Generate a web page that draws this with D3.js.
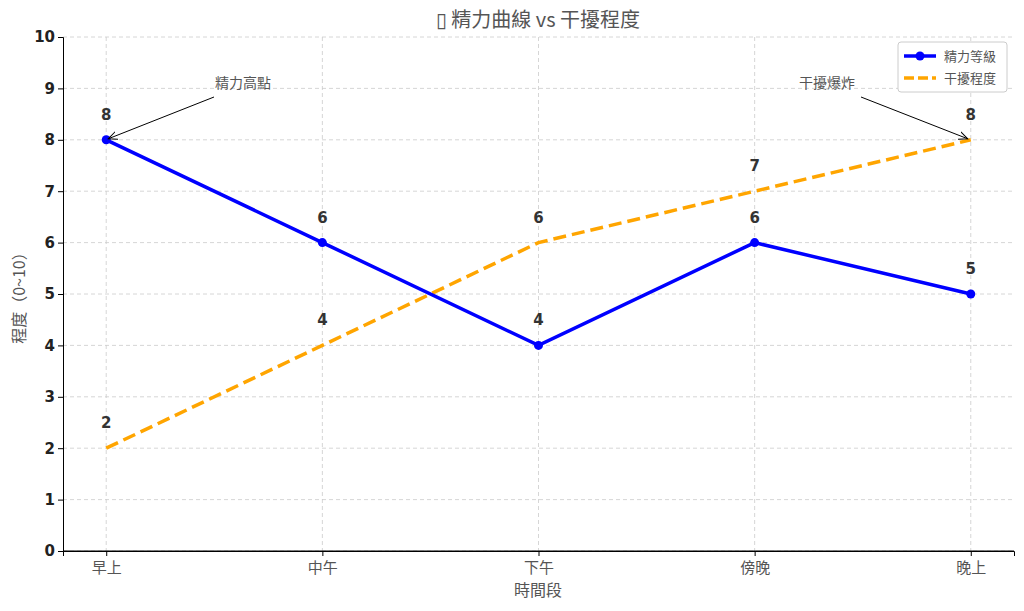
<!DOCTYPE html><html><head><meta charset="utf-8">
<script src="https://cdn.jsdelivr.net/npm/d3@7"></script>
<style>body{margin:0;background:#fff}text{font-family:"Noto Sans CJK TC","DejaVu Sans",sans-serif}</style></head><body>
<svg id="c" width="1024" height="611"></svg>
<script>
const categories=["早上","中午","下午","傍晚","晚上"];
const energy=[8,6,4,6,5];
const distraction=[2,4,6,7,8];
const yTicks=[0,1,2,3,4,5,6,7,8,9,10];
const svg=d3.select("#c");
const L=63,R=1014,T=37,B=551;
const x=d3.scalePoint().domain(categories).range([L,R]).padding(0.2);
const y=d3.scaleLinear().domain([0,10]).range([B,T]);
const g=svg.append("g");
// grid
g.selectAll(".gy").data(yTicks).join("line").attr("x1",L).attr("x2",R).attr("y1",d=>y(d)).attr("y2",d=>y(d)).attr("stroke","#ccc").attr("stroke-dasharray","4,3").attr("stroke-width",0.8);
g.selectAll(".gx").data(categories).join("line").attr("x1",d=>x(d)).attr("x2",d=>x(d)).attr("y1",T).attr("y2",B).attr("stroke","#ccc").attr("stroke-dasharray","4,3").attr("stroke-width",0.8);
const xa=svg.append("g").attr("transform",`translate(0,${B})`).call(d3.axisBottom(x).tickSizeOuter(0).tickSize(5));
xa.selectAll("text").attr("font-size",15).attr("fill","#555").attr("dy","0.9em");
xa.select(".domain").attr("stroke","#000");
const ya=svg.append("g").attr("transform",`translate(${L},0)`).call(d3.axisLeft(y).tickValues(yTicks).tickSizeOuter(0).tickSize(5));
ya.selectAll("text").attr("font-size",15).attr("font-weight","bold").attr("fill","#222").style("font-family","DejaVu Sans");
ya.select(".domain").attr("stroke","#000");
svg.append("line").attr("x1",L).attr("x2",R).attr("y1",B).attr("y2",B).attr("stroke","#000");
const line=d3.line().x((d,i)=>x(categories[i])).y(d=>y(d));
svg.append("path").datum(distraction).attr("d",line).attr("fill","none").attr("stroke","orange").attr("stroke-width",3.5).attr("stroke-dasharray","13,6");
svg.append("path").datum(energy).attr("d",line).attr("fill","none").attr("stroke","blue").attr("stroke-width",3.5);
svg.selectAll(".pt").data(energy).join("circle").attr("cx",(d,i)=>x(categories[i])).attr("cy",d=>y(d)).attr("r",4.5).attr("fill","blue");
const lab=(arr)=>svg.append("g").selectAll("text").data(arr).join("text").attr("x",(d,i)=>x(categories[i])).attr("y",d=>y(d)-20).attr("text-anchor","middle").attr("font-size",15).attr("font-weight","bold").attr("fill","#333").style("font-family","DejaVu Sans").text(d=>d);
lab(energy);lab(distraction);
// annotations
svg.append("defs").append("marker").attr("id","ar").attr("viewBox","0 0 10 10").attr("refX",9).attr("refY",5).attr("markerWidth",10).attr("markerHeight",10).attr("orient","auto").append("path").attr("d","M0,1L9,5L0,9").attr("fill","none").attr("stroke","#000");
svg.append("line").attr("x1",214).attr("x2",x("早上")+2).attr("y1",97).attr("y2",y(8)-1).attr("stroke","#000").attr("marker-end","url(#ar)");
svg.append("text").attr("x",215).attr("y",88).attr("font-size",14).attr("fill","#555").text("精力高點");
svg.append("line").attr("x1",861).attr("x2",x("晚上")-3).attr("y1",97).attr("y2",y(8)-1).attr("stroke","#000").attr("marker-end","url(#ar)");
svg.append("text").attr("x",799).attr("y",88).attr("font-size",14).attr("fill","#555").text("干擾爆炸");
// titles
svg.append("text").attr("x",538).attr("y",27).attr("text-anchor","middle").attr("font-size",20).attr("fill","#555").text("▯ 精力曲線 vs 干擾程度");
svg.append("text").attr("x",538).attr("y",596).attr("text-anchor","middle").attr("font-size",16).attr("fill","#555").text("時間段");
svg.append("text").attr("transform","translate(25,294) rotate(-90)").attr("text-anchor","middle").attr("font-size",16).attr("fill","#555").text("程度（0~10）");
// legend
const lg=svg.append("g").attr("transform","translate(898,42)");
lg.append("rect").attr("width",109).attr("height",50).attr("rx",3).attr("fill","#fff").attr("stroke","#ccc");
lg.append("line").attr("x1",6).attr("x2",38).attr("y1",14).attr("y2",14).attr("stroke","blue").attr("stroke-width",3.5);
lg.append("circle").attr("cx",22).attr("cy",14).attr("r",4.5).attr("fill","blue");
lg.append("text").attr("x",46).attr("y",19).attr("font-size",13).attr("fill","#555").text("精力等級");
lg.append("line").attr("x1",6).attr("x2",38).attr("y1",36).attr("y2",36).attr("stroke","orange").attr("stroke-width",3.5).attr("stroke-dasharray","10,4");
lg.append("text").attr("x",46).attr("y",41).attr("font-size",13).attr("fill","#555").text("干擾程度");
</script></body></html>
